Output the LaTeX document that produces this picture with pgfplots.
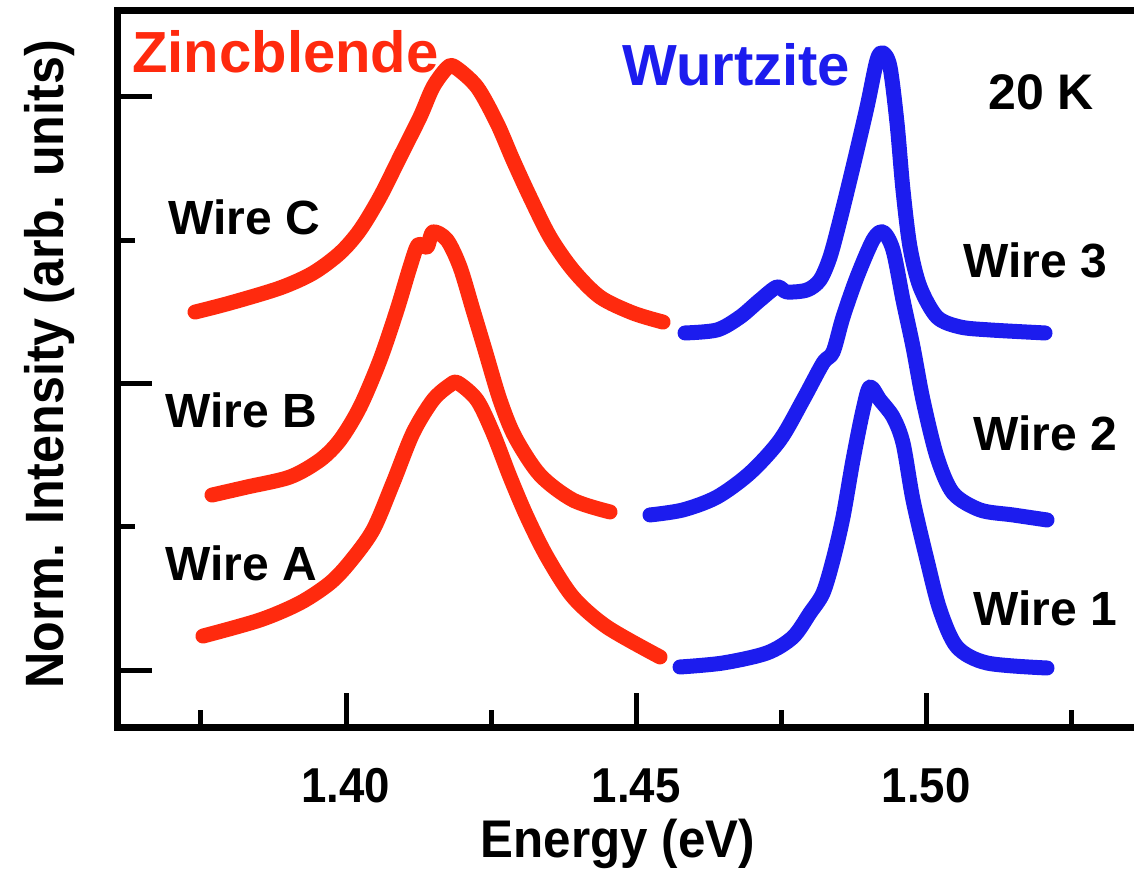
\documentclass[border=0pt]{standalone}
\usepackage{fontspec}
\setmainfont{Liberation Sans}
\newfontfamily\condfont{Liberation Sans}[FakeStretch=0.93]
\usepackage{pgfplots}
\pgfplotsset{compat=1.18}
\definecolor{zbred}{RGB}{255,42,14}
\definecolor{wzblue}{RGB}{28,28,238}

\begin{document}
\begin{tikzpicture}
\begin{axis}[
  name=ax,
  scale only axis,
  width=508pt, height=358.5pt,
  xmin=1.36069, xmax=1.53586,
  ymin=-0.3978, ymax=4.6057,
  axis x line*=box, axis y line*=left,
  axis line style={line width=3.5pt, line cap=rect},
  xtick={1.40,1.45,1.50},
  xticklabels={1.40,1.45,1.50},
  minor xtick={1.375,1.425,1.475,1.525},
  ytick={0,2,4},
  minor ytick={1,3},
  yticklabels={},
  xtick pos=left, ytick pos=left,
  tick align=inside,
  major tick length=17pt,
  minor tick length=8.5pt,
  tick style={black, line width=2.5pt},
  minor tick style={black, line width=2.5pt},
  xticklabel style={font=\condfont\bfseries\fontsize{24.5}{24.5}\selectfont, anchor=base, yshift=-37.5pt},
  xlabel={Energy (eV)},
  ylabel={Norm. Intensity (arb. units)},
  every axis x label/.style={at={(axis description cs:0.492,-0.1813)}, anchor=base, font=\condfont\bfseries\fontsize{26.5}{26.5}\selectfont},
  every axis y label/.style={at={(axis description cs:-0.0541,0.506)}, rotate=90, anchor=base, font=\condfont\bfseries\fontsize{27}{27}\selectfont},
  every axis plot/.append style={line width=7.5pt, line cap=round, line join=round, smooth, tension=0.5},
]
% Zincblende
\addplot[zbred] coordinates {(1.37397,2.498) (1.3800,2.561) (1.38862,2.666) (1.39431,2.770) (1.39897,2.910) (1.40241,3.070) (1.40586,3.301) (1.40931,3.580) (1.41276,3.859) (1.41500,4.068) (1.41741,4.201) (1.41879,4.208) (1.42259,4.068) (1.42603,3.817) (1.42879,3.559) (1.43172,3.301) (1.43517,3.022) (1.43914,2.791) (1.44379,2.603) (1.44948,2.491) (1.45466,2.428)};
\addplot[zbred] coordinates {(1.3769,1.221) (1.38293,1.277) (1.39034,1.347) (1.39552,1.465) (1.39897,1.605) (1.40241,1.835) (1.40586,2.163) (1.40879,2.512) (1.41103,2.812) (1.41241,2.966) (1.41397,2.952) (1.41500,3.057) (1.41741,3.001) (1.41966,2.812) (1.4219,2.512) (1.42397,2.233) (1.42655,1.884) (1.42914,1.626) (1.43345,1.361) (1.43914,1.186) (1.44552,1.103)};
\addplot[zbred] coordinates {(1.37534,0.237) (1.38517,0.349) (1.39207,0.468) (1.39724,0.607) (1.40069,0.754) (1.40466,0.977) (1.4081,1.305) (1.41155,1.654) (1.415,1.884) (1.41793,1.989) (1.41931,2.003) (1.42259,1.884) (1.42534,1.654) (1.42828,1.347) (1.43121,1.068) (1.43466,0.789) (1.43914,0.509) (1.445,0.300) (1.45414,0.091)};
% Wurtzite
\addplot[wzblue] coordinates {(1.45845,2.352) (1.46397,2.373) (1.46793,2.463) (1.47138,2.582) (1.47431,2.673) (1.47603,2.638) (1.47948,2.652) (1.48172,2.722) (1.48345,2.882) (1.48517,3.140) (1.48741,3.510) (1.48983,3.929) (1.49155,4.257) (1.49259,4.306) (1.49379,4.208) (1.495,3.817) (1.49603,3.350) (1.49724,2.952) (1.49897,2.673) (1.5019,2.463) (1.50586,2.394) (1.51103,2.373) (1.52052,2.352)};
\addplot[wzblue] coordinates {(1.45241,1.082) (1.4581,1.117) (1.46397,1.207) (1.46966,1.375) (1.47483,1.605) (1.47879,1.884) (1.48224,2.142) (1.48397,2.219) (1.48569,2.463) (1.4881,2.742) (1.49086,3.001) (1.49259,3.057) (1.49431,2.931) (1.49603,2.582) (1.49776,2.254) (1.49948,1.884) (1.5019,1.486) (1.50466,1.235) (1.50931,1.117) (1.515,1.082) (1.52086,1.047)};
\addplot[wzblue] coordinates {(1.45759,0.021) (1.465,0.049) (1.47259,0.119) (1.47707,0.230) (1.48,0.398) (1.48224,0.537) (1.48397,0.768) (1.48569,1.068) (1.48741,1.465) (1.48914,1.814) (1.49034,1.975) (1.49207,1.884) (1.49431,1.766) (1.49603,1.584) (1.49776,1.186) (1.50017,0.768) (1.50241,0.419) (1.50534,0.161) (1.51052,0.049) (1.52086,0.014)};
% labels
\node[anchor=base west, inner sep=0, text=zbred, font=\bfseries\fontsize{29}{29}\selectfont] at (axis cs:1.3631,4.173) {Zincblende};
\node[anchor=base west, inner sep=0, text=wzblue, font=\bfseries\fontsize{29}{29}\selectfont] at (axis cs:1.44759,4.082) {Wurtzite};
\node[anchor=base west, inner sep=0, font=\bfseries\fontsize{25}{25}\selectfont] at (axis cs:1.51069,3.908) {20 K};
\node[anchor=base west, inner sep=0, font=\bfseries\fontsize{24}{24}\selectfont] at (axis cs:1.36931,3.036) {Wire C};
\node[anchor=base west, inner sep=0, font=\bfseries\fontsize{24}{24}\selectfont] at (axis cs:1.36879,1.689) {Wire B};
\node[anchor=base west, inner sep=0, font=\bfseries\fontsize{24}{24}\selectfont] at (axis cs:1.36879,0.628) {Wire A};
\node[anchor=base west, inner sep=0, font=\bfseries\fontsize{24}{24}\selectfont] at (axis cs:1.50638,2.736) {Wire 3};
\node[anchor=base west, inner sep=0, font=\bfseries\fontsize{24}{24}\selectfont] at (axis cs:1.5081,1.535) {Wire 2};
\node[anchor=base west, inner sep=0, font=\bfseries\fontsize{24}{24}\selectfont] at (axis cs:1.5081,0.314) {Wire 1};
\end{axis}
\pgfresetboundingbox
\useasboundingbox ([xshift=-59pt,yshift=-70.5pt]ax.south west) rectangle ([yshift=5pt]ax.north east);
\end{tikzpicture}
\end{document}
